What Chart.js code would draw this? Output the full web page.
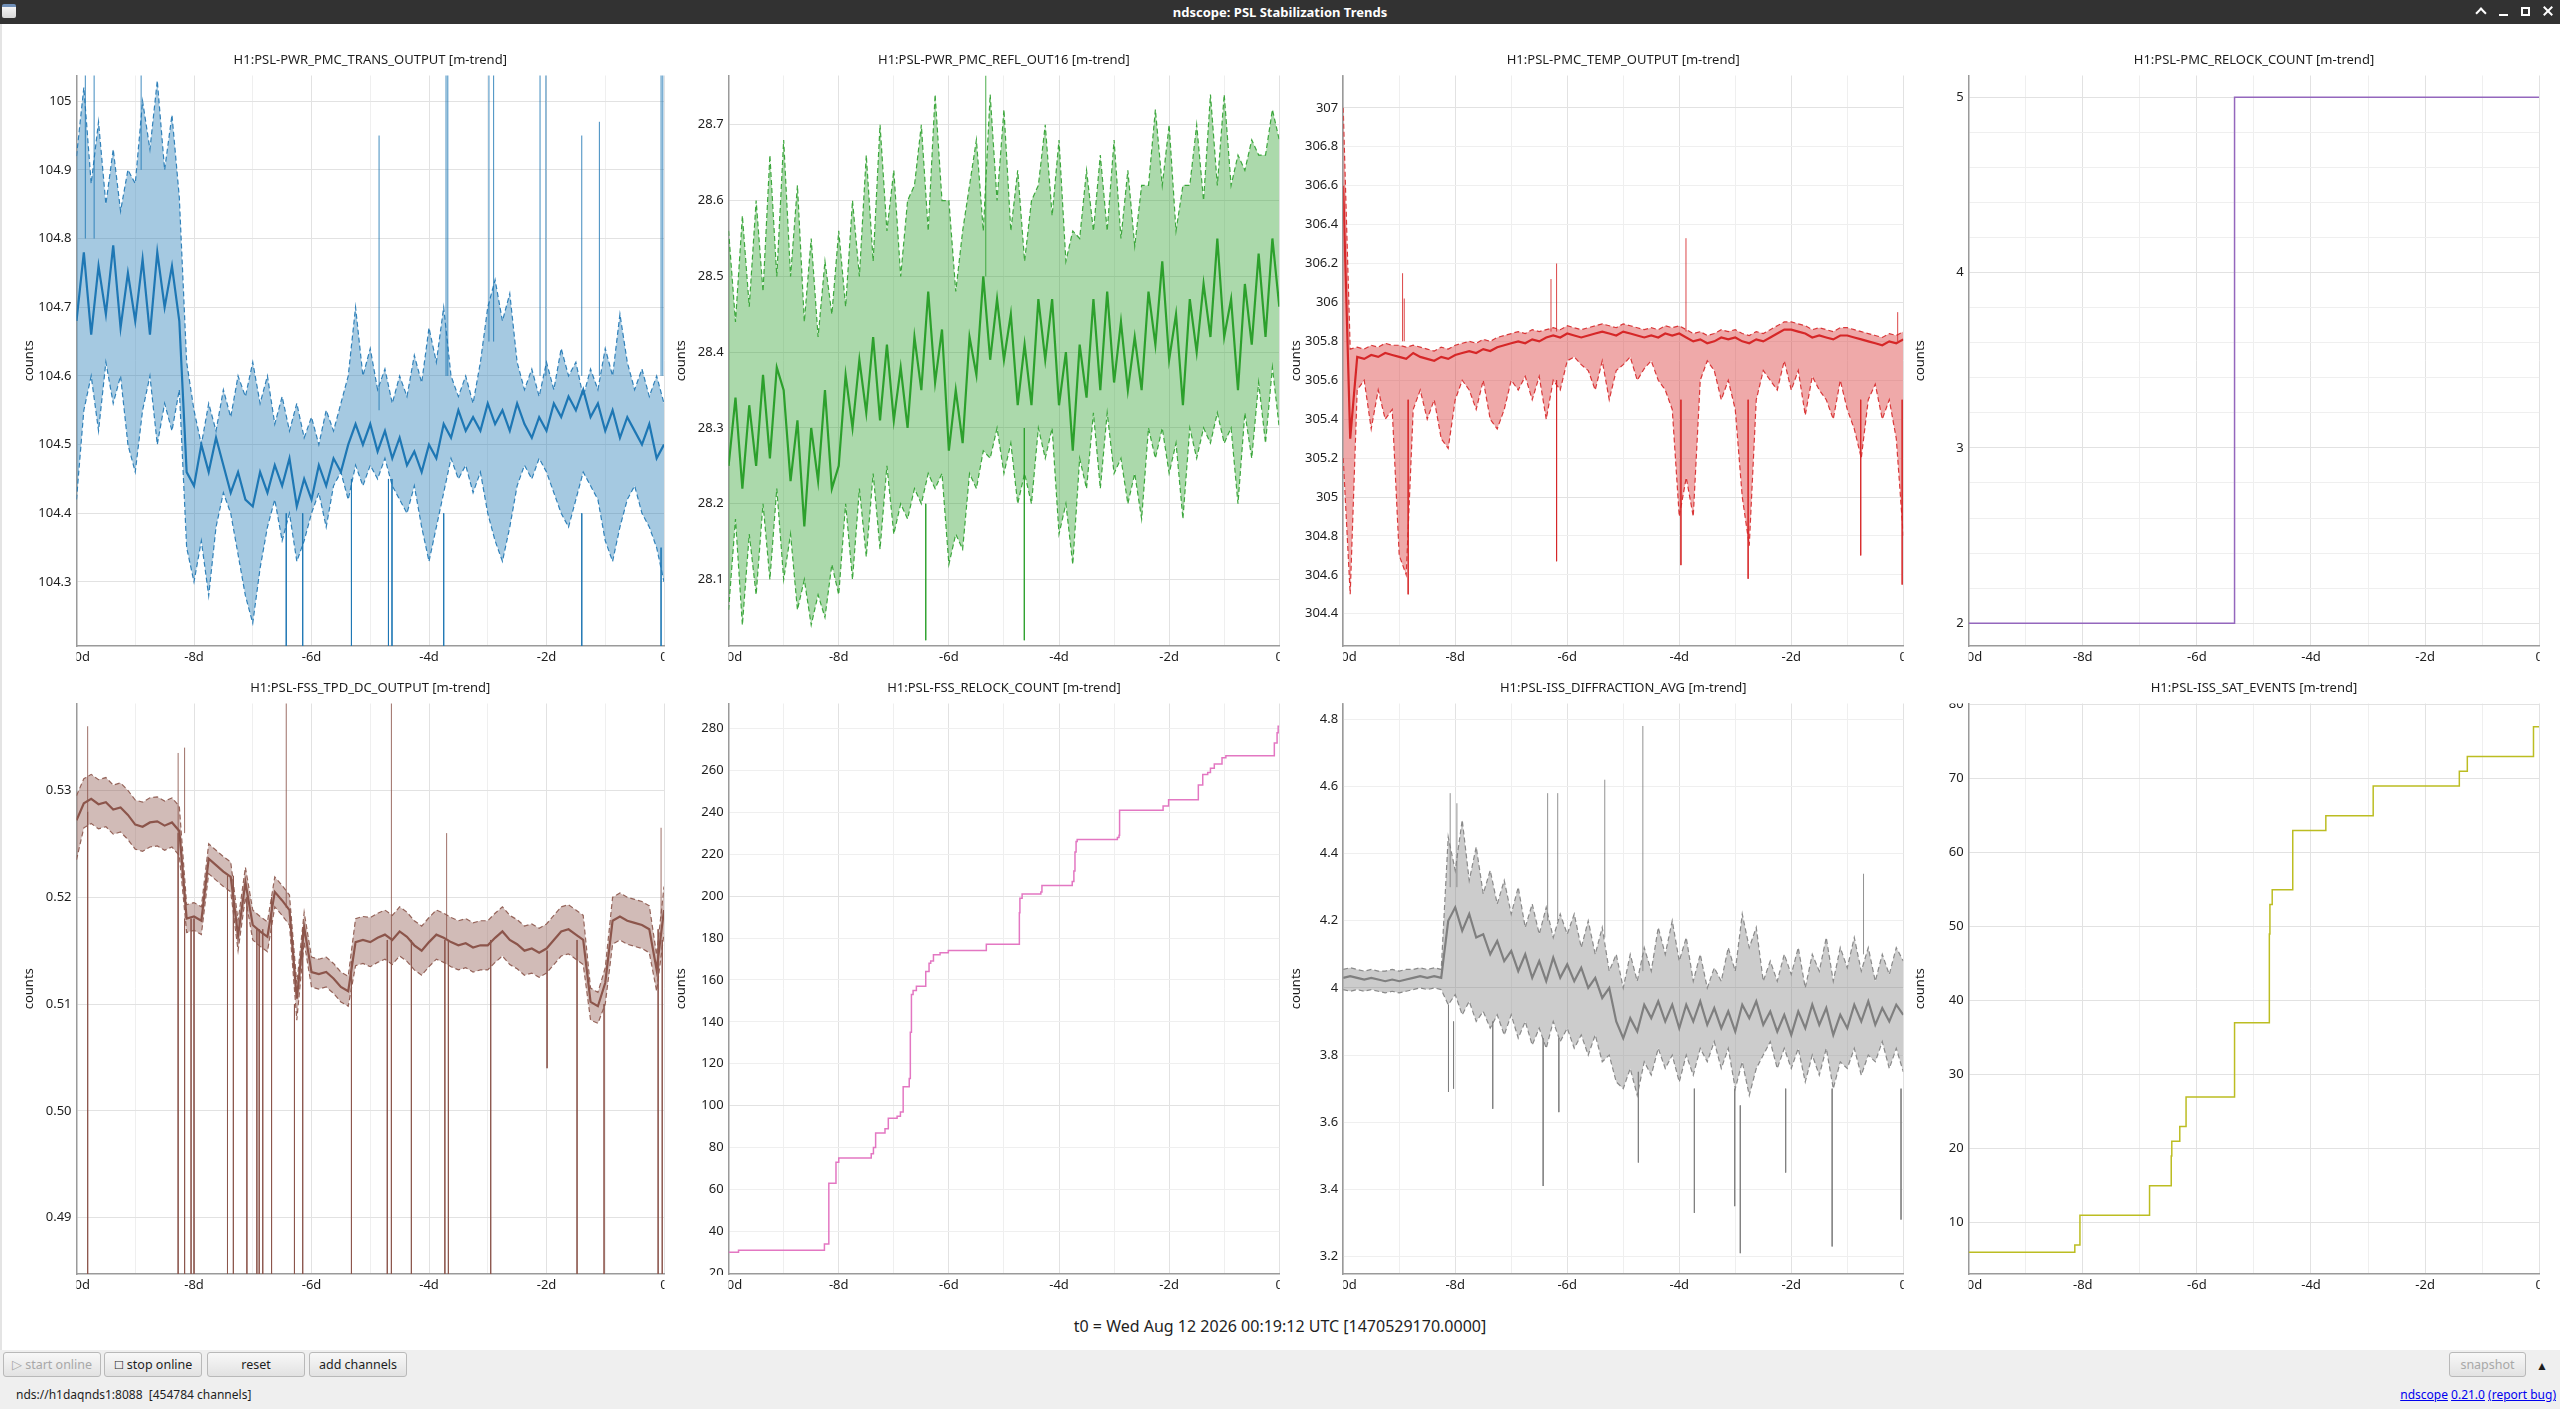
<!DOCTYPE html>
<html lang="en">
<head>
  <meta charset="UTF-8" />
  <title>ndscope: PSL Stabilization Trends</title>
  <script src="https://cdn.jsdelivr.net/npm/chart.js"></script>
  <style>
    html, body { margin: 0; padding: 0; }
    body {
      width: 2560px; height: 1409px; position: relative; overflow: hidden;
      background: #efefef; font-family: "Noto Sans", sans-serif; color: #1e1e1e;
    }
    .titlebar {
      position: absolute; left: 0; top: 0; width: 2560px; height: 24px;
      background: #323232; color: #fff; font-weight: bold; font-size: 13px;
      line-height: 24px; text-align: center;
    }
    .appicon {
      position: absolute; left: 2px; top: 4px; width: 14px; height: 14px; border-radius: 2px;
      background: linear-gradient(#6f8fb8 0 3px, #f4f4f4 3px, #d8d8d8);
    }
    .wb { position: absolute; top: 0; height: 24px; }
    .chev { left: 2477px; top: 9px; width: 6px; height: 6px; border-left: 2px solid #fff; border-top: 2px solid #fff; transform: rotate(45deg); }
    .mini { left: 2499px; top: 14px; width: 9px; height: 2px; background: #fff; }
    .maxi { left: 2521px; top: 7px; width: 5px; height: 5px; border: 2px solid #fff; }
    .close1, .close2 { left: 2542px; top: 10px; width: 12px; height: 2px; background: #fff; }
    .close1 { transform: rotate(45deg); } .close2 { transform: rotate(-45deg); }
    .main {
      position: absolute; left: 0; top: 24px; width: 2560px; height: 1326px;
      background: #fff; border-left: 2px solid #e4e4e4; box-sizing: border-box;
    }
    canvas { position: absolute; }
    .t0 {
      position: absolute; left: 0; top: 1315px; width: 2560px; text-align: center;
      font-size: 16px; line-height: 22px;
    }
    .btn {
      position: absolute; top: 1352px; height: 25px; box-sizing: border-box;
      border: 1px solid #b9b9b9; border-radius: 3px;
      background: linear-gradient(#f8f8f8, #e2e2e2);
      font-size: 12.5px; line-height: 23px; text-align: center; color: #1e1e1e; white-space: nowrap;
    }
    .btn.off { color: #a8a8a8; }
    .status { position: absolute; top: 1386px; font-size: 12px; line-height: 18px; white-space: nowrap; }
    .status a { color: #0000ee; text-decoration: underline; }
  </style>
</head>
<body>
  <div class="titlebar">
    <div class="appicon"></div>
    ndscope: PSL Stabilization Trends
    <div class="wb chev"></div>
    <div class="wb mini"></div>
    <div class="wb maxi"></div>
    <div class="wb close1"></div>
    <div class="wb close2"></div>
  </div>
  <div class="main"></div>
  <div id="plots"></div>
  <div class="t0">t0 = Wed Aug 12 2026 00:19:12 UTC [1470529170.0000]</div>

  <div class="btn off" style="left:3px;width:98px;">&#9655; start online</div>
  <div class="btn" style="left:104px;width:98px;"><span style="font-size:11px">&#9744;</span> stop online</div>
  <div class="btn" style="left:207px;width:98px;">reset</div>
  <div class="btn" style="left:309px;width:98px;">add channels</div>
  <div class="btn off" style="left:2449px;width:77px;">snapshot</div>
  <div style="position:absolute;left:2536px;top:1357px;font-size:12px;">&#9650;</div>

  <div class="status" style="left:16px;">nds://h1daqnds1:8088&nbsp;&nbsp;[454784 channels]</div>
  <div class="status" style="right:4px;"><a>ndscope</a> <a>0.21.0</a> <a>(report bug)</a></div>

  <script>
    // ---- data ----
    // minute-trend samples every 3 h, from -10 d to 0
    const TREND_T0 = -10;
    const TREND_DT = 0.125;

    // H1:PSL-PWR_PMC_TRANS_OUTPUT
    const P1_MEAN = [
      104.68,104.78,104.66,104.76,104.69,104.79,104.67,104.75,
      104.68,104.77,104.66,104.78,104.70,104.76,104.68,104.46,
      104.44,104.50,104.46,104.51,104.47,104.43,104.46,104.42,
      104.41,104.46,104.43,104.47,104.44,104.48,104.41,104.45,
      104.42,104.47,104.44,104.48,104.46,104.50,104.53,104.50,
      104.53,104.49,104.52,104.48,104.51,104.47,104.49,104.46,
      104.50,104.48,104.53,104.51,104.55,104.52,104.54,104.52,
      104.56,104.53,104.55,104.52,104.56,104.53,104.51,104.54,
      104.52,104.56,104.54,104.57,104.55,104.58,104.54,104.56,
      104.52,104.55,104.51,104.54,104.52,104.50,104.53,104.48,
      104.50];
    const P1_MAX = [
      104.92,105.02,104.88,104.97,104.85,104.93,104.84,104.90,
      104.88,105.00,104.93,105.03,104.90,104.98,104.86,104.62,
      104.55,104.50,104.56,104.52,104.58,104.54,104.60,104.57,
      104.62,104.56,104.60,104.53,104.57,104.52,104.56,104.51,
      104.54,104.50,104.55,104.52,104.56,104.60,104.70,104.60,
      104.64,104.58,104.61,104.56,104.60,104.57,104.63,104.59,
      104.67,104.62,104.70,104.60,104.57,104.60,104.56,104.62,
      104.70,104.74,104.68,104.72,104.62,104.58,104.61,104.57,
      104.62,104.58,104.64,104.60,104.62,104.57,104.61,104.58,
      104.64,104.60,104.69,104.62,104.58,104.61,104.57,104.60,
      104.56];
    const P1_MIN = [
      104.42,104.55,104.60,104.52,104.62,104.56,104.60,104.50,
      104.46,104.55,104.60,104.50,104.56,104.52,104.58,104.35,
      104.30,104.36,104.28,104.38,104.43,104.40,104.34,104.28,
      104.24,104.32,104.38,104.42,104.36,104.40,104.33,104.36,
      104.40,104.43,104.38,104.44,104.46,104.42,104.47,104.44,
      104.47,104.45,104.48,104.44,104.42,104.40,104.44,104.38,
      104.33,104.38,104.43,104.48,104.45,104.47,104.43,104.46,
      104.40,104.36,104.33,104.38,104.44,104.47,104.45,104.48,
      104.46,104.43,104.40,104.38,104.42,104.46,104.44,104.42,
      104.36,104.33,104.38,104.42,104.44,104.40,104.38,104.35,
      104.30];
    // [time, from, to]
    const P1_SPIKES = [
      [-9.85,104.80,105.04],[-9.70,104.80,105.04],[-8.90,104.90,105.04],
      [-3.71,104.60,105.04],[-3.68,104.60,105.04],[-2.98,104.65,105.04],[-2.90,104.65,105.04],
      [-2.11,104.60,105.04],[-2.01,104.60,105.04],[-1.40,104.60,104.95],[-1.10,104.60,104.97],
      [-0.05,104.60,105.04],[-0.02,104.60,105.04],[-4.85,104.55,104.95],
      [-6.43,104.40,104.20],[-6.15,104.40,104.20],[-5.32,104.45,104.20],[-4.69,104.45,104.20],
      [-4.63,104.45,104.20],[-3.75,104.40,104.20],[-1.40,104.40,104.20],[-0.05,104.35,104.20]];

    // H1:PSL-PWR_PMC_REFL_OUT16
    const P2_MEAN = [
      28.25,28.34,28.22,28.33,28.25,28.37,28.26,28.38,
      28.35,28.23,28.31,28.17,28.30,28.23,28.35,28.22,
      28.25,28.37,28.30,28.39,28.32,28.42,28.31,28.41,
      28.31,28.38,28.30,28.42,28.35,28.48,28.36,28.43,
      28.27,28.35,28.28,28.42,28.37,28.50,28.39,28.47,
      28.39,28.45,28.33,28.41,28.33,28.47,28.39,28.47,
      28.33,28.40,28.27,28.41,28.34,28.47,28.35,28.48,
      28.36,28.44,28.35,28.42,28.35,28.48,28.41,28.52,
      28.39,28.45,28.33,28.47,28.40,28.49,28.42,28.55,
      28.42,28.47,28.35,28.49,28.41,28.53,28.42,28.55,
      28.46];
    const P2_MAX = [
      28.56,28.44,28.58,28.46,28.60,28.48,28.66,28.50,
      28.68,28.50,28.62,28.44,28.55,28.42,28.52,28.45,
      28.56,28.46,28.60,28.50,28.66,28.52,28.70,28.56,
      28.64,28.50,28.60,28.62,28.70,28.56,28.74,28.60,
      28.60,28.48,28.56,28.62,28.68,28.56,28.74,28.60,
      28.72,28.56,28.64,28.52,28.60,28.62,28.70,28.58,
      28.68,28.52,28.56,28.55,28.64,28.56,28.66,28.56,
      28.68,28.55,28.64,28.54,28.62,28.62,28.72,28.62,
      28.70,28.56,28.62,28.62,28.70,28.60,28.74,28.62,
      28.74,28.62,28.66,28.64,28.68,28.66,28.66,28.72,
      28.68];
    const P2_MIN = [
      28.06,28.18,28.04,28.16,28.08,28.20,28.10,28.22,
      28.10,28.16,28.06,28.10,28.04,28.08,28.05,28.12,
      28.08,28.20,28.10,28.22,28.13,28.24,28.14,28.25,
      28.16,28.20,28.18,28.22,28.20,28.24,28.22,28.24,
      28.12,28.16,28.14,28.24,28.22,28.27,28.26,28.30,
      28.24,28.28,28.20,28.24,28.20,28.30,28.26,28.30,
      28.16,28.20,28.12,28.26,28.22,28.32,28.22,28.32,
      28.24,28.26,28.20,28.24,28.18,28.30,28.26,28.30,
      28.24,28.28,28.18,28.30,28.26,28.30,28.28,28.32,
      28.28,28.30,28.20,28.32,28.26,28.36,28.28,28.38,
      28.30];
    const P2_SPIKES = [[-5.33,28.50,28.765],[-4.63,28.30,28.02],[-6.42,28.20,28.02]];

    // H1:PSL-PMC_TEMP_OUTPUT
    const P3_MEAN = [
      306.60,305.30,305.72,305.71,305.73,305.72,305.74,305.73,
      305.72,305.71,305.74,305.72,305.71,305.70,305.72,305.71,
      305.73,305.74,305.75,305.74,305.76,305.75,305.77,305.78,
      305.79,305.80,305.79,305.81,305.80,305.82,305.83,305.82,
      305.84,305.83,305.82,305.83,305.84,305.85,305.84,305.83,
      305.85,305.84,305.83,305.82,305.83,305.82,305.84,305.83,
      305.84,305.82,305.80,305.81,305.79,305.80,305.82,305.81,
      305.82,305.80,305.79,305.81,305.80,305.82,305.84,305.86,
      305.86,305.85,305.84,305.82,305.83,305.82,305.81,305.83,
      305.83,305.82,305.81,305.80,305.79,305.78,305.80,305.79,
      305.81];
    const P3_MAX = [
      307.00,305.76,305.77,305.76,305.78,305.77,305.79,305.78,
      305.78,305.77,305.78,305.77,305.76,305.75,305.77,305.76,
      305.78,305.79,305.80,305.79,305.81,305.80,305.82,305.83,
      305.84,305.85,305.84,305.86,305.85,305.86,305.87,305.86,
      305.88,305.87,305.86,305.87,305.88,305.89,305.88,305.87,
      305.89,305.88,305.87,305.86,305.87,305.86,305.88,305.87,
      305.88,305.86,305.84,305.85,305.83,305.84,305.86,305.85,
      305.86,305.84,305.83,305.85,305.84,305.86,305.88,305.90,
      305.90,305.89,305.88,305.86,305.87,305.86,305.85,305.87,
      305.87,305.86,305.85,305.84,305.83,305.82,305.84,305.83,
      305.85];
    const P3_MIN = [
      305.20,304.50,305.55,305.60,305.35,305.55,305.40,305.45,
      304.70,304.60,305.45,305.55,305.40,305.50,305.30,305.25,
      305.50,305.60,305.55,305.45,305.60,305.40,305.35,305.45,
      305.60,305.55,305.62,305.50,305.62,305.40,305.60,305.55,
      305.70,305.72,305.68,305.65,305.55,305.70,305.50,305.65,
      305.68,305.72,305.60,305.66,305.70,305.60,305.55,305.45,
      304.90,305.10,304.90,305.60,305.70,305.65,305.50,305.60,
      305.45,305.00,304.75,305.50,305.65,305.60,305.55,305.70,
      305.55,305.65,305.42,305.62,305.55,305.50,305.40,305.60,
      305.45,305.35,305.20,305.50,305.58,305.40,305.50,305.30,
      304.80];
    const P3_SPIKES = [
      [-8.94,305.80,306.15],[-8.91,305.80,306.02],[-6.29,305.85,306.12],[-6.19,305.85,306.20],
      [-3.88,305.85,306.33],[-0.10,305.80,305.95],
      [-8.84,305.50,304.50],[-6.19,305.60,304.67],[-3.97,305.50,304.65],[-2.77,305.50,304.58],
      [-0.76,305.50,304.70],[-0.02,305.50,304.55]];

    // H1:PSL-PMC_RELOCK_COUNT (time of change, new value)
    const P4_T = [-10, -5.34, 0];
    const P4_V = [2, 5, 5];

    // H1:PSL-FSS_TPD_DC_OUTPUT
    const P5_MEAN = [
      0.5272,0.5288,0.5292,0.5287,0.5289,0.5282,0.5284,0.5277,
      0.5268,0.5266,0.5270,0.5271,0.5267,0.5270,0.5262,0.5180,
      0.5182,0.5178,0.5236,0.5230,0.5224,0.5219,0.5164,0.5214,
      0.5174,0.5168,0.5163,0.5205,0.5197,0.5188,0.5105,0.5172,
      0.5130,0.5128,0.5130,0.5124,0.5116,0.5112,0.5158,0.5160,
      0.5158,0.5162,0.5165,0.5160,0.5168,0.5163,0.5155,0.5150,
      0.5158,0.5165,0.5162,0.5158,0.5155,0.5157,0.5153,0.5155,
      0.5155,0.5162,0.5168,0.5160,0.5156,0.5150,0.5152,0.5148,
      0.5152,0.5160,0.5168,0.5170,0.5165,0.5160,0.5102,0.5098,
      0.5120,0.5178,0.5182,0.5178,0.5176,0.5174,0.5170,0.5132,
      0.5188];
    const P5_MAX = [
      0.5295,0.5311,0.5315,0.5310,0.5312,0.5305,0.5307,0.5300,
      0.5291,0.5289,0.5293,0.5294,0.5290,0.5293,0.5285,0.5193,
      0.5195,0.5191,0.5250,0.5244,0.5238,0.5233,0.5178,0.5228,
      0.5188,0.5182,0.5177,0.5219,0.5211,0.5202,0.5119,0.5186,
      0.5144,0.5142,0.5144,0.5138,0.5130,0.5126,0.5180,0.5182,
      0.5181,0.5185,0.5188,0.5183,0.5191,0.5186,0.5178,0.5173,
      0.5181,0.5188,0.5185,0.5181,0.5178,0.5180,0.5176,0.5178,
      0.5178,0.5185,0.5191,0.5183,0.5179,0.5173,0.5175,0.5171,
      0.5175,0.5183,0.5191,0.5193,0.5188,0.5183,0.5115,0.5111,
      0.5134,0.5200,0.5204,0.5200,0.5198,0.5196,0.5192,0.5146,
      0.5210];
    const P5_MIN = [
      0.5235,0.5265,0.5269,0.5264,0.5266,0.5259,0.5261,0.5254,
      0.5245,0.5243,0.5247,0.5248,0.5244,0.5247,0.5239,0.5167,
      0.5169,0.5165,0.5222,0.5216,0.5210,0.5205,0.5150,0.5200,
      0.5160,0.5154,0.5149,0.5191,0.5183,0.5174,0.5085,0.5158,
      0.5116,0.5114,0.5116,0.5110,0.5102,0.5098,0.5136,0.5138,
      0.5135,0.5139,0.5142,0.5137,0.5145,0.5140,0.5132,0.5127,
      0.5135,0.5142,0.5139,0.5135,0.5132,0.5134,0.5130,0.5132,
      0.5132,0.5139,0.5145,0.5137,0.5133,0.5127,0.5129,0.5125,
      0.5129,0.5137,0.5145,0.5147,0.5142,0.5137,0.5085,0.5082,
      0.5100,0.5156,0.5160,0.5156,0.5154,0.5152,0.5148,0.5112,
      0.5166];
    const P5_SPIKES = [
      [-9.81,0.528,0.4847],[-8.27,0.526,0.4847],[-8.16,0.518,0.4847],[-8.05,0.518,0.4847],
      [-8.00,0.518,0.4847],[-7.43,0.522,0.4847],[-7.33,0.522,0.4847],[-7.10,0.520,0.4847],
      [-6.93,0.517,0.4847],[-6.89,0.517,0.4847],[-6.83,0.517,0.4847],[-6.68,0.520,0.4847],
      [-6.29,0.510,0.4847],[-6.15,0.517,0.4847],[-5.32,0.514,0.4847],[-4.71,0.516,0.4847],
      [-4.64,0.516,0.4847],[-4.30,0.516,0.4847],[-3.73,0.516,0.4847],[-3.67,0.516,0.4847],
      [-2.95,0.516,0.4847],[-1.99,0.515,0.5040],[-1.48,0.516,0.4847],[-1.02,0.510,0.4847],
      [-0.10,0.517,0.4847],[-0.03,0.516,0.4847],
      [-9.81,0.528,0.5360],[-8.27,0.526,0.5335],[-8.16,0.526,0.5340],[-6.43,0.519,0.5385],
      [-4.64,0.516,0.5385],[-3.70,0.516,0.5260],[-0.05,0.518,0.5265]];

    // H1:PSL-FSS_RELOCK_COUNT (time of change, new value)
    const P6_T = [-10, -9.82, -8.26, -8.18, -8.05, -8.00, -7.41, -7.37, -7.33, -7.16, -7.10,
                  -6.94, -6.88, -6.83, -6.72, -6.70, -6.68, -6.65, -6.59, -6.42, -6.36, -6.33,
                  -6.28, -6.16, -6.01, -5.32, -4.72, -4.71, -4.67, -4.33, -4.31, -3.76, -3.73,
                  -3.71, -3.69, -3.67, -2.94, -2.91, -2.90, -2.11, -2.01, -1.47, -1.39, -1.30,
                  -1.25, -1.18, -1.04, -0.97, -0.09, -0.04, -0.02, 0];
    const P6_V = [30, 31, 34, 63, 73, 75, 77, 80, 87, 89, 94,
                  95, 97, 109, 113, 135, 153, 155, 157, 164, 168, 169,
                  172, 173, 174, 177, 192, 199, 201, 202, 205, 207, 212,
                  221, 226, 227, 228, 229, 241, 243, 246, 253, 258, 259,
                  261, 263, 266, 267, 273, 278, 281, 281];

    // H1:PSL-ISS_DIFFRACTION_AVG
    const P7_MEAN = [
      4.030,4.035,4.030,4.025,4.030,4.025,4.020,4.025,
      4.020,4.025,4.030,4.035,4.030,4.035,4.030,4.200,
      4.24,4.17,4.22,4.15,4.16,4.10,4.14,4.08,
      4.11,4.05,4.10,4.03,4.08,4.02,4.09,4.03,
      4.07,4.02,4.06,4.00,4.03,3.97,4.00,3.90,
      3.85,3.91,3.87,3.95,3.91,3.96,3.90,3.95,
      3.88,3.95,3.90,3.96,3.89,3.94,3.88,3.93,
      3.87,3.95,3.91,3.96,3.89,3.93,3.87,3.92,
      3.86,3.93,3.88,3.95,3.89,3.94,3.86,3.92,
      3.88,3.95,3.90,3.96,3.89,3.94,3.90,3.95,
      3.92];
    const P7_MAX = [
      4.055,4.060,4.055,4.050,4.055,4.050,4.050,4.055,
      4.050,4.055,4.055,4.060,4.055,4.060,4.055,4.450,
      4.35,4.50,4.32,4.42,4.28,4.35,4.25,4.32,
      4.22,4.30,4.18,4.25,4.16,4.24,4.15,4.22,
      4.16,4.22,4.12,4.20,4.10,4.18,4.05,4.10,
      4.00,4.10,4.02,4.12,4.05,4.18,4.10,4.20,
      4.08,4.15,4.02,4.10,4.00,4.06,4.02,4.12,
      4.05,4.22,4.12,4.18,4.02,4.08,4.02,4.10,
      4.04,4.12,4.00,4.10,4.05,4.15,4.02,4.12,
      4.06,4.15,4.05,4.12,4.02,4.10,4.04,4.12,
      4.08];
    const P7_MIN = [
      3.995,3.990,3.995,3.990,3.995,3.990,3.985,3.990,
      3.985,3.990,3.995,4.000,3.995,4.000,3.995,3.950,
      3.98,3.92,3.96,3.90,3.93,3.88,3.92,3.86,
      3.92,3.85,3.90,3.83,3.88,3.82,3.90,3.84,
      3.88,3.82,3.86,3.80,3.86,3.78,3.80,3.72,
      3.70,3.76,3.68,3.78,3.74,3.82,3.76,3.80,
      3.72,3.80,3.74,3.82,3.78,3.84,3.76,3.82,
      3.70,3.78,3.68,3.76,3.80,3.84,3.76,3.82,
      3.76,3.82,3.72,3.80,3.74,3.82,3.70,3.78,
      3.76,3.82,3.74,3.80,3.78,3.84,3.76,3.82,
      3.75];
    const P7_SPIKES = [
      [-8.09,4.30,4.58],[-7.97,4.30,4.55],[-6.35,4.20,4.58],[-6.17,4.20,4.58],
      [-5.33,4.15,4.62],[-4.65,4.05,4.78],[-0.71,4.10,4.34],
      [-8.12,3.95,3.69],[-8.03,3.90,3.70],[-7.33,3.90,3.64],[-6.43,3.85,3.41],
      [-6.15,3.85,3.63],[-4.73,3.75,3.48],[-3.73,3.70,3.33],[-3.01,3.70,3.35],
      [-2.91,3.65,3.21],[-2.10,3.70,3.45],[-1.27,3.70,3.23],[-0.04,3.70,3.31]];

    // H1:PSL-ISS_SAT_EVENTS (time of change, new value)
    const P8_T = [-10, -8.14, -8.05, -6.83, -6.45, -6.44, -6.30, -6.19, -5.34,
                  -4.73, -4.72, -4.68, -4.32, -3.74, -2.91, -1.40, -1.26, -0.10, 0];
    const P8_V = [6, 7, 11, 15, 19, 21, 23, 27, 37,
                  49, 53, 55, 63, 65, 69, 71, 73, 77, 77];

    // ---- layout of the 2x4 grid (page pixels) ----
    const COL_COUNTS_X = [29.5, 681, 1296, 1920];
    const COL_AXIS_X = [76.5, 728.6, 1343.2, 1968.7];
    const COL_RIGHT_X = [664, 1279.6, 1904.2, 2539.2];
    const COL_CANVAS_RIGHT = [671, 1286, 1910, 2560];
    const ROW_TOP = [75.5, 703.5];
    const ROW_BOTTOM = [646, 1274];
    const ROW_CANVAS_BOTTOM = [668, 1300];

    const FONT = 'Noto Sans';
    const TEXT = '#1e1e1e';

    function rgba(c, a) { return 'rgba(' + c[0] + ',' + c[1] + ',' + c[2] + ',' + a + ')'; }
    function trendPoints(vals) { return vals.map((v, i) => ({ x: TREND_T0 + i * TREND_DT, y: v })); }
    function stepPoints(ts, vs) { return ts.map((t, i) => ({ x: t, y: vs[i] })); }
    function spikePoints(spikes) {
      const pts = [];
      spikes.forEach(s => { pts.push({ x: s[0], y: s[1] }, { x: s[0], y: s[2] }, { x: s[0], y: null }); });
      return pts;
    }
    function isMult(v, step) { const k = v / step; return Math.abs(k - Math.round(k)) < 1e-6; }

    // min/max envelope dashed with a shaded band, mean solid on top
    function trendSets(color, mean, max, min, spikes) {
      return [
        { data: trendPoints(max), borderColor: rgba(color, 0.9), borderWidth: 1.2, borderDash: [5, 3],
          fill: '+1', backgroundColor: rgba(color, 0.4) },
        { data: trendPoints(min), borderColor: rgba(color, 0.9), borderWidth: 1.2, borderDash: [5, 3], fill: false },
        { data: trendPoints(mean), borderColor: rgba(color, 1), borderWidth: 2.2, fill: false },
        { data: spikePoints(spikes), borderColor: rgba(color, 0.85), borderWidth: 1, fill: false, spanGaps: false }
      ];
    }
    function stepSets(color, ts, vs) {
      return [{ data: stepPoints(ts, vs), borderColor: rgba(color, 1), borderWidth: 1.5, stepped: true, fill: false }];
    }

    const panels = [
      { col: 0, row: 0, title: 'H1:PSL-PWR_PMC_TRANS_OUTPUT [m-trend]', ymin: 104.2068, ymax: 105.0374,
        grid: 0.1, label: 0.1, major: 0.1, dec: 1, trim: true,
        sets: trendSets([31, 119, 180], P1_MEAN, P1_MAX, P1_MIN, P1_SPIKES) },
      { col: 1, row: 0, title: 'H1:PSL-PWR_PMC_REFL_OUT16 [m-trend]', ymin: 28.0124, ymax: 28.765,
        grid: 0.1, label: 0.1, major: 0.1, dec: 1, trim: true,
        sets: trendSets([44, 160, 44], P2_MEAN, P2_MAX, P2_MIN, P2_SPIKES) },
      { col: 2, row: 0, title: 'H1:PSL-PMC_TEMP_OUTPUT [m-trend]', ymin: 304.2345, ymax: 307.166,
        grid: 0.2, label: 0.2, major: 1, dec: 1, trim: true,
        sets: trendSets([214, 39, 40], P3_MEAN, P3_MAX, P3_MIN, P3_SPIKES) },
      { col: 3, row: 0, title: 'H1:PSL-PMC_RELOCK_COUNT [m-trend]', ymin: 1.870, ymax: 5.124,
        grid: 0.2, label: 1, major: 1, dec: 0, trim: true,
        sets: stepSets([148, 103, 189], P4_T, P4_V) },
      { col: 0, row: 1, title: 'H1:PSL-FSS_TPD_DC_OUTPUT [m-trend]', ymin: 0.48474, ymax: 0.53813,
        grid: 0.01, label: 0.01, major: 0.01, dec: 2, trim: false,
        sets: trendSets([140, 86, 75], P5_MEAN, P5_MAX, P5_MIN, P5_SPIKES) },
      { col: 1, row: 1, title: 'H1:PSL-FSS_RELOCK_COUNT [m-trend]', ymin: 19.67, ymax: 291.9,
        grid: 20, label: 20, major: 100, dec: 0, trim: true,
        sets: stepSets([227, 119, 194], P6_T, P6_V) },
      { col: 2, row: 1, title: 'H1:PSL-ISS_DIFFRACTION_AVG [m-trend]', ymin: 3.148, ymax: 4.847,
        grid: 0.2, label: 0.2, major: 1, dec: 1, trim: true,
        sets: trendSets([127, 127, 127], P7_MEAN, P7_MAX, P7_MIN, P7_SPIKES) },
      { col: 3, row: 1, title: 'H1:PSL-ISS_SAT_EVENTS [m-trend]', ymin: 3.07, ymax: 80.15,
        grid: 10, label: 10, major: 10, dec: 0, trim: true,
        sets: stepSets([188, 189, 34], P8_T, P8_V) }
    ];

    // clips the edge tick labels like the scope does and writes the panel title
    const panelDecor = {
      id: 'panelDecor',
      afterDraw(chart, args, opts) {
        const ctx = chart.ctx, ca = chart.chartArea;
        const W = chart.width, H = chart.height;
        ctx.save();
        ctx.fillStyle = '#ffffff';
        ctx.fillRect(0, 0, ca.left - 1, ca.top);
        ctx.fillRect(0, ca.bottom + 1, ca.left, H - ca.bottom);
        ctx.fillRect(ca.right + 0.5, ca.bottom + 1, W - ca.right, H - ca.bottom);
        ctx.fillStyle = TEXT;
        ctx.font = '13px "' + FONT + '"';
        ctx.textAlign = 'center';
        ctx.textBaseline = 'middle';
        ctx.fillText(opts.title, (ca.left + ca.right) / 2, ca.top - 15);
        ctx.restore();
      }
    };

    const holder = document.getElementById('plots');
    panels.forEach(p => {
      const left = Math.floor(COL_COUNTS_X[p.col] - 10);
      const top = Math.floor(ROW_TOP[p.row] - 36);
      const right = COL_CANVAS_RIGHT[p.col];
      const bottom = ROW_CANVAS_BOTTOM[p.row];
      const cv = document.createElement('canvas');
      cv.width = right - left;
      cv.height = bottom - top;
      cv.style.left = left + 'px';
      cv.style.top = top + 'px';
      cv.style.width = (right - left) + 'px';
      cv.style.height = (bottom - top) + 'px';
      holder.appendChild(cv);

      const yAxisW = COL_AXIS_X[p.col] - left;
      const xAxisH = bottom - ROW_BOTTOM[p.row];

      new Chart(cv.getContext('2d'), {
        type: 'line',
        data: { datasets: p.sets.map(s => Object.assign({ pointRadius: 0, tension: 0 }, s)) },
        options: {
          responsive: false,
          animation: false,
          devicePixelRatio: 1,
          layout: { padding: { left: 0, top: ROW_TOP[p.row] - top, right: right - COL_RIGHT_X[p.col], bottom: 0 } },
          plugins: {
            legend: { display: false },
            tooltip: { enabled: false },
            panelDecor: { title: p.title }
          },
          scales: {
            x: {
              type: 'linear', min: -10, max: 0,
              afterFit: s => { s.height = xAxisH; },
              border: { display: true, color: '#9a9a9a', width: 1.5 },
              grid: {
                drawTicks: false, lineWidth: 1,
                color: c => (c.tick && isMult(c.tick.value, 2)) ? '#e2e2e2' : '#efefef'
              },
              ticks: {
                stepSize: 1, autoSkip: false, maxRotation: 0, includeBounds: false, padding: 3,
                color: TEXT, font: { family: FONT, size: 13 },
                callback: v => isMult(v, 2) ? (Math.round(v) === 0 ? '0' : Math.round(v) + 'd') : ''
              }
            },
            y: {
              type: 'linear', min: p.ymin, max: p.ymax,
              afterFit: s => { s.width = yAxisW; },
              border: { display: true, color: '#9a9a9a', width: 1.5 },
              grid: {
                drawTicks: false, lineWidth: 1,
                color: c => (c.tick && isMult(c.tick.value, p.major)) ? '#e2e2e2' : '#efefef'
              },
              title: {
                display: true, text: 'counts', color: TEXT,
                font: { family: FONT, size: 13 }, padding: { top: 2, bottom: 0 }
              },
              ticks: {
                stepSize: p.grid, maxTicksLimit: 100, autoSkip: false, includeBounds: false, padding: 5,
                color: TEXT, font: { family: FONT, size: 13 },
                callback: v => {
                  if (!isMult(v, p.label)) return '';
                  const s = v.toFixed(p.dec);
                  return p.trim ? String(parseFloat(s)) : s;
                }
              }
            }
          }
        },
        plugins: [panelDecor]
      });
    });
  </script>
</body>
</html>
